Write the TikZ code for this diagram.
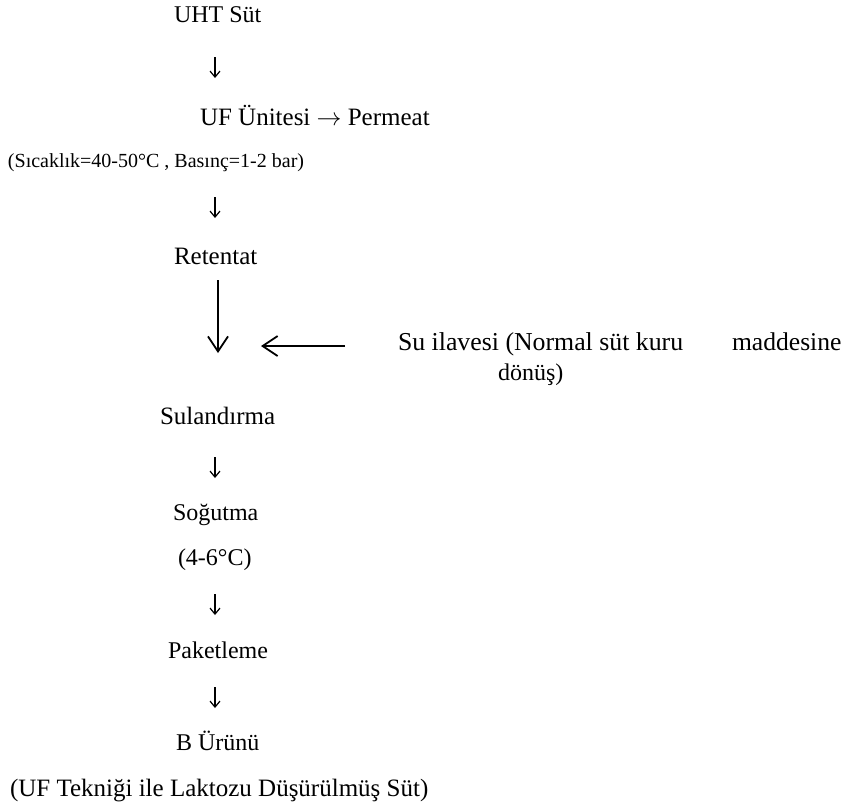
\documentclass[tikz,border=0pt]{standalone}
\usepackage{fontspec}
\setmainfont{Liberation Serif}
\usetikzlibrary{arrows.meta}
\begin{document}
\begin{tikzpicture}[x=1pt,y=-1pt,
  lbl/.style={anchor=base west,inner sep=0pt,outer sep=0pt,font=\fontsize{#1}{#1}\selectfont},
  lbl/.default=24,
  smallarr/.style={line width=1.2pt,-{Straight Barb[length=6pt,width=10pt,line width=1.2pt]}},
  bigarr/.style={line width=1.8pt,-{Straight Barb[length=15pt,width=20pt,line width=1.8pt]}}]
\useasboundingbox (0,0) rectangle (868,803);
\coordinate (ax) at (215,0);
\coordinate (bx) at (218,0);
\node[lbl] (uht) at (174,23) {UHT Süt};
\node[lbl=25] (uf) at (200,125) {UF Ünitesi $\rightarrow$ Permeat};
\node[lbl=20] (sic) at (8,167) {(Sıcaklık=40-50°C , Basınç=1-2 bar)};
\node[lbl=25] (ret) at (174,264) {Retentat};
\node[lbl=25.8] (su) at (398,350) {Su ilavesi (Normal süt kuru};
\node[lbl=25.6] (mad) at (732,350) {maddesine};
\node[lbl] (don) at (498,380) {dönüş)};
\node[lbl=25] (sul) at (160,424) {Sulandırma};
\node[lbl] (sog) at (173,520) {Soğutma};
\node[lbl] (c46) at (178,565) {(4-6°C)};
\node[lbl] (pak) at (168,658) {Paketleme};
\node[lbl] (bur) at (176,750) {B Ürünü};
\node[lbl=25] (son) at (10,796) {(UF Tekniği ile Laktozu Düşürülmüş Süt)};
\draw[smallarr,shorten <=34pt,shorten >=47pt] (ax |- uht.base) -- (ax |- uf.base);
\draw[smallarr,shorten <=30pt,shorten >=46pt] (ax |- sic.base) -- (ax |- ret.base);
\draw[bigarr,shorten <=16pt,shorten >=71pt] (bx |- ret.base) -- (bx |- sul.base);
\draw[bigarr,shorten <=53pt,shorten >=43pt] ([yshift=4pt]su.base west) -- ([yshift=4pt]bx |- su.base);
\draw[smallarr,shorten <=33pt,shorten >=42pt] (ax |- sul.base) -- (ax |- sog.base);
\draw[smallarr,shorten <=29pt,shorten >=43pt] (ax |- c46.base) -- (ax |- pak.base);
\draw[smallarr,shorten <=29pt,shorten >=42pt] (ax |- pak.base) -- (ax |- bur.base);
\end{tikzpicture}
\end{document}
